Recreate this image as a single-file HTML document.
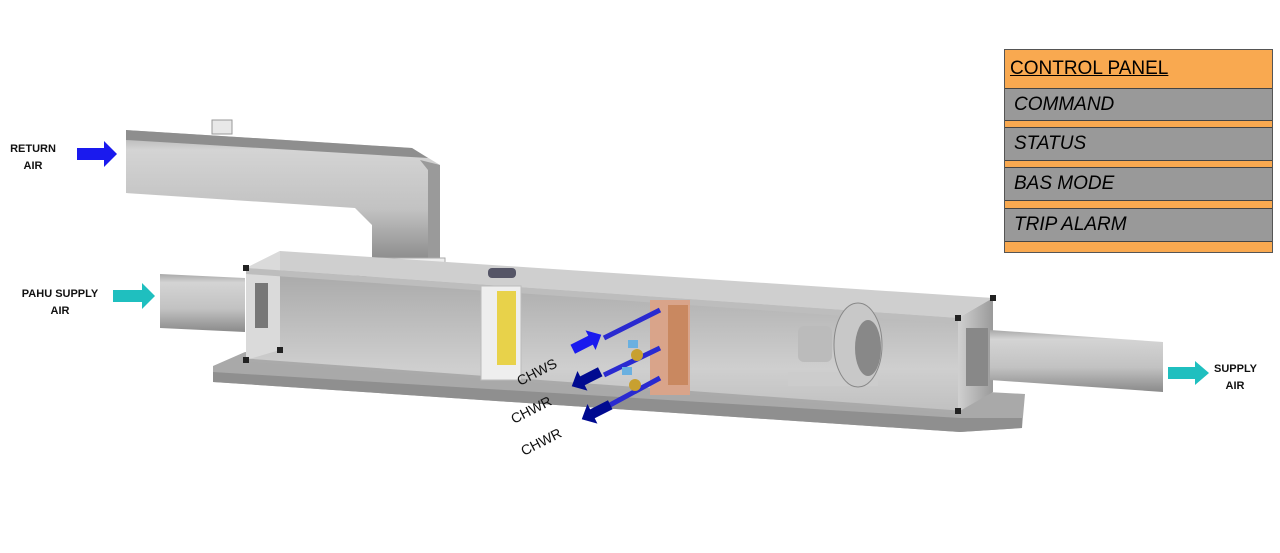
<!DOCTYPE html>
<html><head><meta charset="utf-8"><style>
body{margin:0;background:#fff;width:1280px;height:553px;overflow:hidden;font-family:"Liberation Sans",sans-serif}
.lbl{position:absolute;font-weight:bold;font-size:11px;text-align:center;color:#111;line-height:17px}
#cp{position:absolute;left:1004px;top:49px;width:267px;border:1px solid #555;background:#f9a950}
#cp div{position:absolute;left:0;width:267px;font-size:19px;padding-left:9px;box-sizing:border-box}
.g{background:#999;border-top:1px solid #444;border-bottom:1px solid #444;font-style:italic}
</style></head><body>
<svg width="1280" height="553" style="position:absolute;left:0;top:0">
<defs>
<linearGradient id="dg" x1="0" y1="0" x2="0" y2="1"><stop offset="0" stop-color="#a8a8a8"/><stop offset="0.15" stop-color="#d4d4d4"/><stop offset="0.6" stop-color="#c2c2c2"/><stop offset="1" stop-color="#8a8a8a"/></linearGradient>
<linearGradient id="vg" x1="0" y1="0" x2="1" y2="0"><stop offset="0" stop-color="#d0d0d0"/><stop offset="1" stop-color="#9a9a9a"/></linearGradient>
<linearGradient id="ig" x1="0" y1="0" x2="0" y2="1"><stop offset="0" stop-color="#a8a8a8"/><stop offset="0.7" stop-color="#cfcfcf"/><stop offset="1" stop-color="#c0c0c0"/></linearGradient>
</defs>
<!-- plinth -->
<polygon points="213,366 245,352 1025,394 1022,428 960,432 213,382" fill="#a9a9a9"/>
<polygon points="213,372 960,418 1022,418 1022,428 960,432 213,382" fill="#8f8f8f"/>
<!-- return duct -->
<polygon points="126,130 412,148 440,165 440,262 372,262 372,225 355,208 126,193" fill="url(#dg)"/>
<polygon points="126,130 412,148 428,158 126,140" fill="#8e8e8e"/>
<polygon points="420,160 440,165 440,262 428,262 428,170" fill="#9a9a9a"/>
<rect x="357" y="258" width="88" height="18" fill="#eee" stroke="#aaa"/>
<rect x="212" y="120" width="20" height="14" fill="#e8e8e8" stroke="#999"/>
<!-- pahu duct -->
<polygon points="160,274 245,278 245,332 160,328" fill="url(#dg)"/>
<!-- AHU back/inside -->
<polygon points="246,268 280,251 993,298 958,318" fill="#cfcfcf"/>
<polygon points="246,268 958,318 958,412 246,360" fill="url(#ig)"/>
<polygon points="246,268 280,251 280,350 246,360" fill="#dadada"/>
<polygon points="246,268 958,318 958,324 246,274" fill="#bdbdbd"/>
<rect x="255" y="283" width="13" height="45" fill="#777"/>
<polygon points="958,318 993,298 993,392 958,412" fill="url(#vg)"/>
<rect x="966" y="328" width="22" height="58" fill="#888"/>
<line x1="246" y1="360" x2="958" y2="412" stroke="#aaa" stroke-width="3"/>
<!-- corners -->
<g fill="#222"><rect x="243" y="265" width="6" height="6"/><rect x="243" y="357" width="6" height="6"/><rect x="955" y="315" width="6" height="6"/><rect x="955" y="408" width="6" height="6"/><rect x="277" y="347" width="6" height="6"/><rect x="990" y="295" width="6" height="6"/></g>
<!-- filter -->
<rect x="481" y="286" width="40" height="94" fill="#eee" stroke="#bbb"/>
<rect x="497" y="291" width="19" height="74" fill="#e8d24a"/>
<rect x="488" y="268" width="28" height="10" rx="4" fill="#556"/>
<!-- coil -->
<rect x="650" y="300" width="40" height="95" fill="#d9a48a"/>
<rect x="668" y="305" width="20" height="80" fill="#c98860"/>
<!-- fan -->
<rect x="788" y="372" width="90" height="14" fill="#ccc"/>
<rect x="798" y="326" width="34" height="36" rx="6" fill="#bbb"/>
<ellipse cx="858" cy="345" rx="24" ry="42" fill="#c8c8c8" stroke="#888"/>
<ellipse cx="868" cy="348" rx="13" ry="28" fill="#888"/>
<!-- supply duct -->
<polygon points="990,330 1163,342 1163,392 990,380" fill="url(#dg)"/>
<!-- pipes -->
<g stroke="#2a2ad0" stroke-width="5"><line x1="604" y1="338" x2="660" y2="310"/><line x1="604" y1="375" x2="660" y2="348"/><line x1="610" y1="405" x2="660" y2="378"/></g>
<circle cx="637" cy="355" r="6" fill="#c8a030"/><circle cx="635" cy="385" r="6" fill="#c8a030"/>
<rect x="628" y="340" width="10" height="8" fill="#6ab0e0"/><rect x="622" y="367" width="10" height="8" fill="#6ab0e0"/>
<!-- arrows -->
<polygon points="77,148 104,148 104,141 117,154 104,167 104,160 77,160" fill="#1a1aee"/>
<polygon points="113,290 142,290 142,283 155,296 142,309 142,302 113,302" fill="#1fbfbf"/>
<polygon points="1168,367 1195,367 1195,361 1209,373 1195,385 1195,379 1168,379" fill="#1fbfbf"/>
<g transform="translate(587,342) rotate(-27)"><polygon points="-16,-5 4,-5 4,-11 16,0 4,11 4,5 -16,5" fill="#1a1aee"/></g>
<g transform="translate(586,379) rotate(-27)"><polygon points="16,-5 -4,-5 -4,-11 -16,0 -4,11 -4,5 16,5" fill="#000a90"/></g>
<g transform="translate(596,412) rotate(-27)"><polygon points="16,-5 -4,-5 -4,-11 -16,0 -4,11 -4,5 16,5" fill="#000a90"/></g>
<g font-size="14" fill="#111" font-family="Liberation Sans">
<text transform="translate(520,386) rotate(-27)">CHWS</text>
<text transform="translate(514,424) rotate(-27)">CHWR</text>
<text transform="translate(524,456) rotate(-27)">CHWR</text>
</g>
</svg>
<div class="lbl" style="left:6px;top:141px;width:54px">RETURN<br>AIR</div>
<div class="lbl" style="left:14px;top:286px;width:92px">PAHU SUPPLY<br>AIR</div>
<div class="lbl" style="left:1214px;top:361px;width:42px">SUPPLY<br>AIR</div>
<div id="cp" style="height:202px">
<div style="top:0;height:38px;line-height:38px;text-decoration:underline;padding-left:5px">CONTROL PANEL</div>
<div class="g" style="top:38px;height:33px;line-height:31px">COMMAND</div>
<div class="g" style="top:77px;height:34px;line-height:32px">STATUS</div>
<div class="g" style="top:117px;height:34px;line-height:32px">BAS MODE</div>
<div class="g" style="top:158px;height:34px;line-height:32px">TRIP ALARM</div>
</div>
</body></html>
